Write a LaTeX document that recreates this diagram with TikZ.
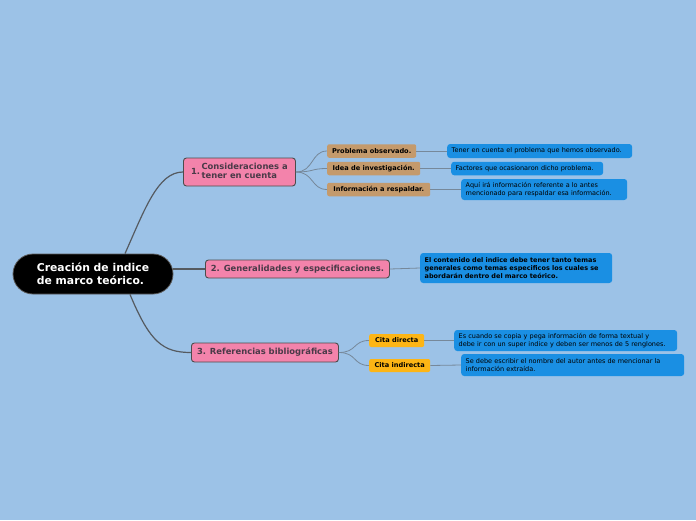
\documentclass[tikz,border=0pt]{standalone}
\usepackage{fontspec}
\setmainfont{DejaVu Sans}
\usetikzlibrary{calc}
\definecolor{bg}{HTML}{9CC2E7}
\definecolor{pinkc}{HTML}{F383AB}
\definecolor{pinktxt}{HTML}{4A3A48}
\definecolor{brownc}{HTML}{C49A6C}
\definecolor{orangec}{HTML}{FDB515}
\definecolor{bluec}{HTML}{1A8FE3}
\definecolor{mainline}{HTML}{555A60}
\definecolor{subline}{HTML}{76889A}
\tikzset{
  rootbox/.style={fill=black,draw=gray!70!black,line width=0.8pt,rounded corners=20pt,
    minimum width=160pt,minimum height=40pt,text=white,font=\fontsize{10.8}{13}\selectfont\bfseries,align=left,inner sep=0pt},
  pinkbox/.style={fill=pinkc,draw=black!70,line width=0.9pt,rounded corners=3pt,
    text=pinktxt,font=\fontsize{8.4}{9.6}\selectfont\bfseries,inner xsep=3pt,inner ysep=0pt,anchor=west},
  brownbox/.style={fill=brownc,rounded corners=2pt,text=black,font=\fontsize{6.6}{7.5}\selectfont\bfseries,
    inner xsep=2pt,inner ysep=0pt,minimum height=13.5pt,anchor=west},
  orangebox/.style={fill=orangec,rounded corners=2pt,text=black,font=\fontsize{6.6}{7.5}\selectfont\bfseries,
    inner xsep=2pt,inner ysep=0pt,minimum height=13pt,anchor=west},
  bluebox/.style={fill=bluec,rounded corners=3pt,text=black,font=\fontsize{6.5}{8.1}\selectfont,
    inner xsep=4.5pt,inner ysep=0pt,anchor=west,align=left},
  mainconn/.style={draw=mainline,line width=1.2pt},
  subconn/.style={draw=subline,line width=0.8pt},
}
\begin{document}
\begin{tikzpicture}[x=1pt,y=-1pt]
\fill[bg] (0,0) rectangle (696,520);
\useasboundingbox (0,0) rectangle (696,520);

% root
\node[rootbox] (root) at (93,274) {Creación de indice\\de marco teórico.};

% level 1
\node[pinkbox,minimum width=112pt,minimum height=28pt] (n1) at (183,172)
  {1.\,\begin{tabular}[c]{@{}l@{}}Consideraciones a\\[-1pt]tener en cuenta\end{tabular}};
\node[pinkbox,minimum width=184pt,minimum height=18pt] (n2) at (205,269) {2. Generalidades y especificaciones.};
\node[pinkbox,minimum width=147pt,minimum height=19pt] (n3) at (191,352.5) {3. Referencias bibliográficas};

% brown
\node[brownbox,minimum width=89pt] (b1) at (327,151) {Problema observado.};
\node[brownbox,minimum width=93pt] (b2) at (327,168.5) {Idea de investigación.};
\node[brownbox,minimum width=103pt] (b3) at (327,189.5) {Información a respaldar.};

% blue for brown
\node[bluebox,text width=176pt,minimum height=14pt] (c1) at (447,151) {\mbox{Tener en cuenta el problema que hemos observado.}};
\node[bluebox,text width=143pt,minimum height=13.5pt] (c2) at (451,168.5) {\mbox{Factores que ocasionaron dicho problema.}};
\node[bluebox,text width=157pt,minimum height=21pt] (c3) at (461,189.5) {\mbox{Aquí irá información referente a lo antes}\\\mbox{mencionado para respaldar esa información.}};

% blue for n2
\node[bluebox,text width=183pt,minimum height=30pt,font=\fontsize{6.5}{8.1}\selectfont\bfseries] (d1) at (420,268)
  {\mbox{El contenido del indice debe tener tanto temas}\\\mbox{generales como temas especificos los cuales se}\\\mbox{abordarán dentro del marco teórico.}};

% orange
\node[orangebox,minimum width=55pt] (o1) at (369,340.5) {Cita directa};
\node[orangebox,minimum width=61pt] (o2) at (369,365.5) {Cita indirecta};

% blue for orange
\node[bluebox,text width=214pt,minimum height=21pt] (e1) at (454,340.5) {\mbox{Es cuando se copia y pega información de forma textual y}\\\mbox{debe ir con un super indice y deben ser menos de 5 renglones.}};
\node[bluebox,text width=214pt,minimum height=22pt] (e2) at (461,365) {\mbox{Se debe escribir el nombre del autor antes de mencionar la}\\\mbox{información extraída.}};

% main connectors
\draw[mainconn] ($(root.north)+(32,0)$) .. controls ($(root.north)+(52,-45)$) and ($(n1.west)+(-25,0)$) .. (n1.west);
\draw[mainconn] (root.east |- n2.west) -- (n2.west);
\draw[mainconn] ($(root.south)+(37,0)$) .. controls ($(root.south)+(57,48)$) and ($(n3.west)+(-28,0)$) .. (n3.west);

% sub connectors
\foreach \t in {b1,b2,b3}{
  \draw[subconn] (n1.east) .. controls ($(n1.east)+(18,0)$) and ($(\t.west)+(-16,0)$) .. (\t.west);
}
\draw[subconn] (b1.east) -- (c1.west);
\draw[subconn] (b2.east) -- (c2.west);
\draw[subconn] (b3.east) -- (c3.west);
\draw[subconn] (n2.east) -- (d1.west);
\foreach \t in {o1,o2}{
  \draw[subconn] (n3.east) .. controls ($(n3.east)+(18,0)$) and ($(\t.west)+(-16,0)$) .. (\t.west);
}
\draw[subconn] (o1.east) -- (e1.west);
\draw[subconn] (o2.east) -- (e2.west);
\end{tikzpicture}
\end{document}
